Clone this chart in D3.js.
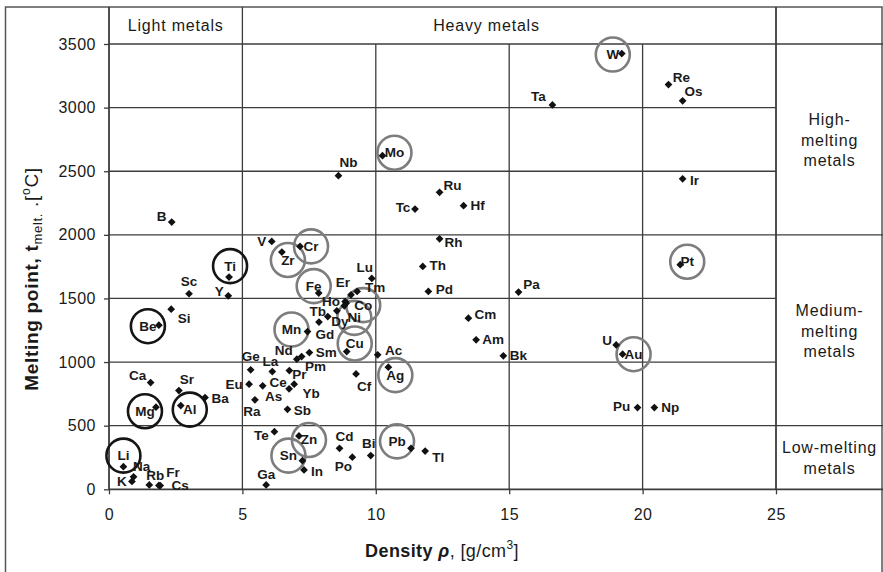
<!DOCTYPE html>
<html>
<head>
<meta charset="utf-8">
<script src="https://cdn.jsdelivr.net/npm/d3@7"></script>
<style>
  body { margin: 0; background: #fff; }
  text { font-family: "Liberation Sans", Arial, sans-serif; fill: #1a1a1a; }
</style>
</head>
<body>
<div id="chart"></div>
<script>
// element symbols, density [g/cm3], melting point [C]
const symbols = ["B","V","Sc","Y","Si","Ca","Sr","Ba","Na","K","Rb","Fr","Cs","Ge","La","Nd","Pm","Sm","Gd","Tb","Dy","Ho","Er","Tm","Lu","Ac","Cf","Eu","As","Ce","Yb","Pr","Ra","Sb","Te","In","Ga","Cd","Po","Bi","Tl","Nb","Ta","Re","Os","Ir","Ru","Tc","Hf","Rh","Th","Pd","Pa","Cm","Am","Bk","U","Pu","Np",
                 "Li","Be","Mg","Al","Ti",
                 "W","Mo","Cr","Zr","Fe","Mn","Co","Ni","Cu","Ag","Zn","Sn","Pb","Au","Pt"];
const density = [2.35,6.1,3.0,4.47,2.33,1.56,2.62,3.6,0.92,0.86,1.51,1.87,1.92,5.31,6.12,7.04,7.22,7.51,7.87,8.2,8.54,8.85,9.07,9.3,9.85,10.07,9.26,5.25,5.76,6.75,6.94,6.76,5.47,6.69,6.2,7.31,5.89,8.64,9.12,9.81,11.85,8.6,16.62,20.97,21.5,21.5,12.39,11.47,13.29,12.39,11.76,11.97,15.35,13.47,13.76,14.78,19.01,19.81,20.44,
                 0.54,1.87,1.76,2.69,4.5,
                 19.22,10.25,7.16,6.48,7.86,7.44,8.89,8.82,8.91,10.47,7.12,7.25,11.32,19.25,21.41];
const melting = [2100,1948,1537,1521,1416,839,776,721,98,62,34,30,29,939,925,1023,1043,1075,1314,1358,1403,1476,1529,1555,1657,1057,907,826,813,790,826,933,703,629,453,152,34,322,252,265,301,2465,3021,3181,3053,2440,2334,2203,2229,1969,1752,1555,1550,1345,1175,1049,1135,642,642,
                 178,1290,645,658,1668,
                 3425,2622,1909,1865,1542,1240,1463,1442,1083,960,419,225,322,1062,1765];
const lightRinged = ["Li","Be","Mg","Al","Ti"];
const heavyRinged = ["W","Mo","Cr","Zr","Fe","Mn","Co","Ni","Cu","Ag","Zn","Sn","Pb","Au","Pt"];

const xTicks = [0, 5, 10, 15, 20, 25];
const yTicks = [0, 500, 1000, 1500, 2000, 2500, 3000, 3500];
const zoneRows = [3500, 2000, 500, 0];   // lines carried into the right column
const zoneNames = [["High-","melting","metals"], ["Medium-","melting","metals"], ["Low-melting","metals"]];
const zoneMid = [2750, 1250, 250];

// label placement relative to the marker (layout only)
const labelAt = {
  B:[-10,-6], V:[-10,0], Sc:[0,-12], Y:[-9,-4], Si:[13,9], Ca:[-13,-7], Sr:[8,-11], Ba:[15,1],
  Na:[8,-10], K:[-10,0], Rb:[6,-9], Fr:[14,-13], Cs:[20,0], Ge:[0,-13], La:[-2,-10], Nd:[-13,-9],
  Pm:[14,10], Sm:[17,0], Gd:[6,12], Tb:[-10,-5], Dy:[3,11], Ho:[-14,0], Er:[-8,-12], Tm:[18,-4],
  Lu:[-7,-11], Ac:[16,-4], Cf:[8,13], Eu:[-15,0], As:[11,11], Ce:[-11,-6], Yb:[17,9], Pr:[10,4],
  Ra:[-3,12], Sb:[15,1], Te:[-13,4], In:[13,2], Ga:[0,-10], Cd:[5,-12], Po:[-9,9], Bi:[-2,-12],
  Tl:[13,6], Nb:[10,-13], Ta:[-14,-8], Re:[13,-7], Os:[11,-9], Ir:[12,2], Ru:[13,-7], Tc:[-12,-2],
  Hf:[14,0], Rh:[14,4], Th:[15,-1], Pd:[16,-2], Pa:[13,-8], Cm:[17,-4], Am:[17,0], Bk:[15,0],
  U:[-9,-4], Pu:[-16,-1], Np:[16,0]
};
// ring centre relative to the marker; the symbol sits inside the ring
const ringAt = {
  Li:[0,-11], Be:[-11,1], Mg:[-11,4], Al:[9,4], Ti:[1,-11],
  W:[-9,1], Mo:[12,-3], Cr:[11,0], Zr:[6,8], Fe:[-5,-7], Mn:[-16,-2], Co:[17,2], Ni:[10,12],
  Cu:[8,-8], Ag:[7,8], Zn:[10,4], Sn:[-14,-5], Pb:[-14,-7], Au:[11,0], Pt:[7,-3]
};

var margin = {top: 44, right: 107, bottom: 83, left: 109},
    W = 883, H = 572,
    width = W - margin.left - margin.right,
    height = 489.3 - margin.top;

var svg = d3.select("#chart").append("svg")
    .attr("width", W).attr("height", H);

// outer frame
svg.append("rect")
    .attr("x", 5.5).attr("y", 7).attr("width", 876.5).attr("height", 600)
    .attr("fill", "none").attr("stroke", "#555").attr("stroke-width", 1.5);

var g = svg.append("g")
    .attr("transform", "translate(" + margin.left + "," + margin.top + ")");

var x = d3.scaleLinear().domain([0, 25]).range([0, width]);
var y = d3.scaleLinear().domain([0, 3500]).range([height, 0]);

var lineCol = "#3c3c3c";

// horizontal grid
g.selectAll("line.hgrid").data(yTicks).enter().append("line")
    .attr("class", "hgrid")
    .attr("x1", 0)
    .attr("x2", d => zoneRows.includes(d) ? W - margin.left : width)
    .attr("y1", d => y(d)).attr("y2", d => y(d))
    .attr("stroke", lineCol).attr("stroke-width", d => d == 0 ? 1.8 : 1.3);

// vertical grid; x=0,5,25 run up through the header row
g.selectAll("line.vgrid").data(xTicks).enter().append("line")
    .attr("class", "vgrid")
    .attr("x1", d => x(d)).attr("x2", d => x(d))
    .attr("y1", d => (d == 0 || d == 5 || d == 25) ? 7 - margin.top : 0)
    .attr("y2", height)
    .attr("stroke", lineCol).attr("stroke-width", d => (d == 0 || d == 25) ? 1.8 : 1.3);

// axes (ticks outward, no domain)
var xAxis = g.append("g")
    .attr("transform", "translate(0," + height + ")")
    .call(d3.axisBottom(x).tickValues(xTicks).tickSize(5).tickPadding(14).tickFormat(d3.format("d")));
var yAxis = g.append("g")
    .call(d3.axisLeft(y).tickValues(yTicks).tickSize(5).tickPadding(8).tickFormat(d3.format("d")));
[xAxis, yAxis].forEach(a => {
    a.select(".domain").remove();
    a.selectAll("line").attr("stroke", lineCol).attr("stroke-width", 1.3);
    a.selectAll("text").attr("font-size", 16).attr("fill", "#1a1a1a")
        .attr("letter-spacing", 0.5)
        .style("font-family", '"Liberation Sans", Arial, sans-serif');
});

// header row
g.append("text").attr("x", (x(0) + x(5)) / 2).attr("y", -13)
    .attr("text-anchor", "middle").attr("font-size", 16).attr("letter-spacing", 0.8).text("Light metals");
g.append("text").attr("x", x(14.15)).attr("y", -13)
    .attr("text-anchor", "middle").attr("font-size", 16).attr("letter-spacing", 0.8).text("Heavy metals");

// right column zone names
var colMid = (width + W - margin.left) / 2;
zoneNames.forEach((lines, i) => {
    var t = g.append("text").attr("text-anchor", "middle").attr("font-size", 16)
        .attr("letter-spacing", 0.8)
        .attr("x", colMid).attr("y", y(zoneMid[i]) - (lines.length - 1) * 10 + 6);
    lines.forEach((s, j) => {
        t.append("tspan").attr("x", colMid).attr("dy", j == 0 ? 0 : 20.5).text(s);
    });
});

// data
var data = symbols.map((s, i) => ({sym: s, d: density[i], t: melting[i]}));

// rings
var ringed = data.filter(p => ringAt[p.sym]);
g.selectAll("circle.ring").data(ringed).enter().append("circle")
    .attr("class", "ring")
    .attr("cx", p => x(p.d) + ringAt[p.sym][0])
    .attr("cy", p => y(p.t) + ringAt[p.sym][1])
    .attr("r", 17)
    .attr("fill", "none")
    .attr("stroke", p => lightRinged.includes(p.sym) ? "#151515" : "#7d7d7d")
    .attr("stroke-width", 2.6);

// markers
g.selectAll("path.pt").data(data).enter().append("path")
    .attr("class", "pt")
    .attr("d", d3.symbol().type(d3.symbolSquare).size(30))
    .attr("transform", p => "translate(" + x(p.d) + "," + y(p.t) + ") rotate(45)")
    .attr("fill", "#111");

// labels
g.selectAll("text.lbl").data(data).enter().append("text")
    .attr("class", "lbl")
    .attr("x", p => x(p.d) + (ringAt[p.sym] || labelAt[p.sym])[0])
    .attr("y", p => y(p.t) + (ringAt[p.sym] || labelAt[p.sym])[1])
    .attr("text-anchor", "middle")
    .attr("dominant-baseline", "central")
    .attr("font-size", 13.5).attr("font-weight", "bold")
    .text(p => p.sym);

// axis titles
var xt = svg.append("text").attr("x", 442).attr("y", 557)
    .attr("text-anchor", "middle").attr("font-size", 18).attr("letter-spacing", 0.4);
xt.append("tspan").attr("font-weight", "bold").text("Density ");
xt.append("tspan").attr("font-weight", "bold").attr("font-style", "italic").text("\u03C1");
xt.append("tspan").text(", [g/cm");
xt.append("tspan").attr("font-size", 12).attr("dy", -8).text("3");
xt.append("tspan").attr("dy", 8).text("]");

var yt = svg.append("text")
    .attr("transform", "translate(38,279) rotate(-90)")
    .attr("text-anchor", "middle").attr("font-size", 19).attr("letter-spacing", 0.7);
yt.append("tspan").attr("font-weight", "bold").text("Melting point, t");
yt.append("tspan").attr("font-size", 13).attr("dy", 4).text("melt.");
yt.append("tspan").attr("dy", -4).text(" .[");
yt.append("tspan").attr("font-size", 12).attr("dy", -8).text("o");
yt.append("tspan").attr("dy", 8).text("C]");
</script>
</body>
</html>
